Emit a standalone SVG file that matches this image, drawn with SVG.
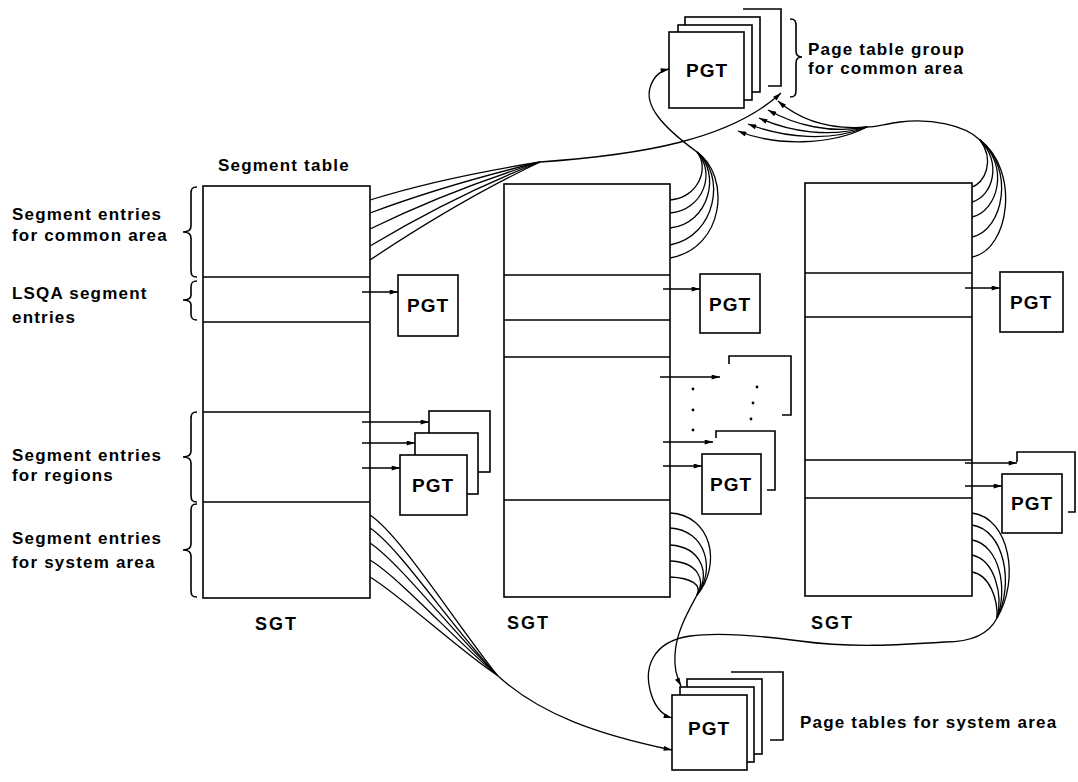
<svg xmlns="http://www.w3.org/2000/svg" width="1078" height="782" viewBox="0 0 1078 782">
<defs>
<marker id="ah" viewBox="0 0 10 6" refX="10" refY="3" markerWidth="9" markerHeight="5" markerUnits="userSpaceOnUse" orient="auto"><path d="M0,0 L10,3 L0,6 z" fill="#000"/></marker>
</defs>
<style>
.box{fill:#fff;stroke:#000;stroke-width:1.6}
.ln{fill:none;stroke:#000;stroke-width:1.6}
.c{fill:none;stroke:#000;stroke-width:1.3}
.a{marker-end:url(#ah)}
.dot{fill:#000}
text{font-family:"Liberation Sans",Arial,sans-serif;font-weight:bold;fill:#000}
.lbl{font-size:17px;letter-spacing:1.2px}
.pg{font-size:19px;letter-spacing:1px;text-anchor:middle}
.sg{font-size:18px;letter-spacing:2px}
</style>
<rect width="1078" height="782" fill="#fff"/>

<g id="labels">
<text class="lbl" x="218" y="171">Segment table</text>
<text class="lbl" x="12" y="220">Segment entries</text>
<text class="lbl" x="12" y="241">for common area</text>
<text class="lbl" x="12" y="299">LSQA segment</text>
<text class="lbl" x="12" y="323">entries</text>
<text class="lbl" x="12" y="461">Segment entries</text>
<text class="lbl" x="12" y="481">for regions</text>
<text class="lbl" x="12" y="544">Segment entries</text>
<text class="lbl" x="12" y="568">for system area</text>
<text class="lbl" x="808" y="55">Page table group</text>
<text class="lbl" x="808" y="74">for common area</text>
<text class="lbl" x="800" y="728">Page tables for system area</text>
<path class="ln" d="M197,187 C192,187 191,189 191,194 L191,226 C191,230 188,232 183,232 C188,232 191,234 191,238 L191,270 C191,275 192,277 197,277"/>
<path class="ln" d="M197,281 C192,281 191,283 191,287 L191,295 C191,298 188,300 183,300 C188,300 191,302 191,305 L191,314 C191,318 192,320 197,320"/>
<path class="ln" d="M197,412 C192,412 191,414 191,419 L191,451 C191,455 188,457 183,457 C188,457 191,459 191,463 L191,495 C191,500 192,502 197,502"/>
<path class="ln" d="M197,504 C192,504 191,506 191,511 L191,544 C191,548 188,550 183,550 C188,550 191,552 191,556 L191,590 C191,595 192,597 197,597"/>
<path class="ln" d="M790,19 C795,19 796,21 796,26 L796,51 C796,55 798,57 802,57 C798,57 796,59 796,63 L796,90 C796,95 795,97 790,97"/>
</g>

<g id="sgt-left">
<rect class="box" x="203" y="186" width="167" height="412"/>
<path class="ln" d="M203,277H370M203,322H370M203,412H370M203,502H370"/>
<text class="sg" x="255" y="630">SGT</text>
</g>
<g id="sgt-middle">
<rect class="box" x="504" y="184" width="166" height="413"/>
<path class="ln" d="M504,275H670M504,320H670M504,357H670M504,500H670"/>
<text class="sg" x="507" y="629">SGT</text>
</g>
<g id="sgt-right">
<rect class="box" x="805" y="183" width="167" height="413"/>
<path class="ln" d="M805,273H972M805,317H972M805,460H972M805,498H972"/>
<text class="sg" x="811" y="629">SGT</text>
</g>

<g id="pgt-common">
<rect class="box" x="685" y="17" width="75" height="75"/>
<rect class="box" x="678" y="25" width="74" height="75"/>
<rect class="box" x="669" y="32" width="75" height="76"/>
<path class="ln" d="M743,9H781V86H768"/>
<text class="pg" x="707" y="77">PGT</text>
</g>

<g id="pgt-lsqa-left">
<rect class="box" x="398" y="275" width="60" height="61"/>
<text class="pg" x="428" y="312">PGT</text>
</g>
<g id="pgt-lsqa-middle">
<rect class="box" x="700" y="274" width="60" height="59"/>
<text class="pg" x="730" y="311">PGT</text>
</g>
<g id="pgt-lsqa-right">
<rect class="box" x="1000" y="272" width="63" height="60"/>
<text class="pg" x="1031" y="309">PGT</text>
</g>

<g id="pgt-regions-left">
<rect class="box" x="429" y="411" width="61" height="61"/>
<rect class="box" x="415" y="433" width="63" height="61"/>
<rect class="box" x="400" y="455" width="67" height="60"/>
<text class="pg" x="433" y="492">PGT</text>
</g>
<g id="pgt-regions-middle">
<path class="ln" d="M729,364V356H791V415H782"/>
<circle class="dot" cx="693" cy="389" r="1.4"/>
<circle class="dot" cx="693" cy="410" r="1.4"/>
<circle class="dot" cx="693" cy="430" r="1.4"/>
<circle class="dot" cx="757" cy="387" r="1.4"/>
<circle class="dot" cx="753" cy="403" r="1.4"/>
<circle class="dot" cx="751" cy="419" r="1.4"/>
<path class="ln" d="M716,438V431H775V490H767"/>
<rect class="box" x="702" y="454" width="59" height="60"/>
<text class="pg" x="731" y="491">PGT</text>
</g>
<g id="pgt-regions-right">
<path class="ln" d="M1017,462V452H1075V512H1068"/>
<rect class="box" x="1002" y="474" width="60" height="59"/>
<text class="pg" x="1032" y="510">PGT</text>
</g>

<g id="pgt-system">
<rect class="box" x="687" y="679" width="75" height="75"/>
<rect class="box" x="680" y="687" width="74" height="75"/>
<rect class="box" x="672" y="695" width="75" height="75"/>
<path class="ln" d="M731,672H783V740H770"/>
<text class="pg" x="709" y="735">PGT</text>
</g>

<g id="connectors">
<path class="c a" d="M362,292H398"/>
<path class="c a" d="M663,289H700"/>
<path class="c a" d="M965,288H1000"/>
<path class="c a" d="M362,422H429"/>
<path class="c a" d="M362,443H415"/>
<path class="c a" d="M362,468H400"/>
<path class="c a" d="M660,377H720"/>
<path class="c a" d="M663,442H713"/>
<path class="c a" d="M663,466H702"/>
<path class="c a" d="M965,463H1017"/>
<path class="c a" d="M965,486H1002"/>

<path class="c" d="M370,200 Q440,178 540,162"/>
<path class="c" d="M370,213 Q445,185 540,162"/>
<path class="c" d="M370,229 Q450,190 540,162"/>
<path class="c" d="M370,246 Q455,195 540,162"/>
<path class="c" d="M370,260 Q460,200 540,162"/>
<path class="c a" d="M540,162 C640,155 730,140 781,93"/>

<path class="c" d="M670,200 C698,198 710,168 697,152"/>
<path class="c" d="M670,213 C704,210 716,172 697,152"/>
<path class="c" d="M670,228 C710,224 721,172 697,152"/>
<path class="c" d="M670,245 C717,236 726,174 697,152"/>
<path class="c" d="M670,258 C725,248 731,176 697,152"/>
<path class="c a" d="M697,152 C660,125 645,105 650,88 C653,77 660,71 669,69"/>

<path class="c" d="M972,187 C985,183 995,160 980,140"/>
<path class="c" d="M972,202 C992,197 1003,163 980,140"/>
<path class="c" d="M972,217 C998,211 1010,166 980,140"/>
<path class="c" d="M972,237 C1004,230 1015,168 980,140"/>
<path class="c" d="M972,257 C1010,250 1020,170 980,140"/>
<path class="c" d="M980,140 C965,125 930,118 900,122 C885,124 875,127 867,127"/>
<path class="c a" d="M867,127 C830,130 800,120 778,101"/>
<path class="c a" d="M867,127 C830,134 795,125 768,110"/>
<path class="c a" d="M867,127 C830,138 790,132 759,118"/>
<path class="c a" d="M867,127 C830,142 785,138 748,124"/>
<path class="c a" d="M867,127 C830,146 775,146 738,131"/>

<path class="c" d="M370,515 C400,535 450,615 497,675"/>
<path class="c" d="M370,528 C400,548 450,625 497,675"/>
<path class="c" d="M370,543 C400,563 455,635 497,675"/>
<path class="c" d="M370,560 C400,578 460,645 497,675"/>
<path class="c" d="M370,577 C400,595 465,655 497,675"/>
<path class="c a" d="M497,675 C540,715 600,735 672,750"/>

<path class="c" d="M670,513 C712,515 722,565 697,595"/>
<path class="c" d="M670,528 C706,530 716,570 697,595"/>
<path class="c" d="M670,545 C702,547 711,575 697,595"/>
<path class="c" d="M670,561 C698,562 706,580 697,595"/>
<path class="c" d="M670,577 C692,578 702,585 697,595"/>
<path class="c a" d="M697,595 C688,612 676,632 675,655 C674,668 677,678 681,686"/>

<path class="c" d="M972,513 C1010,518 1020,580 997,618"/>
<path class="c" d="M972,525 C1005,530 1014,585 997,618"/>
<path class="c" d="M972,540 C1000,545 1008,590 997,618"/>
<path class="c" d="M972,555 C995,560 1003,595 997,618"/>
<path class="c" d="M972,572 C990,575 998,600 997,618"/>
<path class="c a" d="M997,618 C990,632 975,642 945,642 C900,645 850,648 800,641 C760,636 720,632 690,636 C650,642 645,670 650,690 C654,706 662,715 672,718"/>
</g>
</svg>
